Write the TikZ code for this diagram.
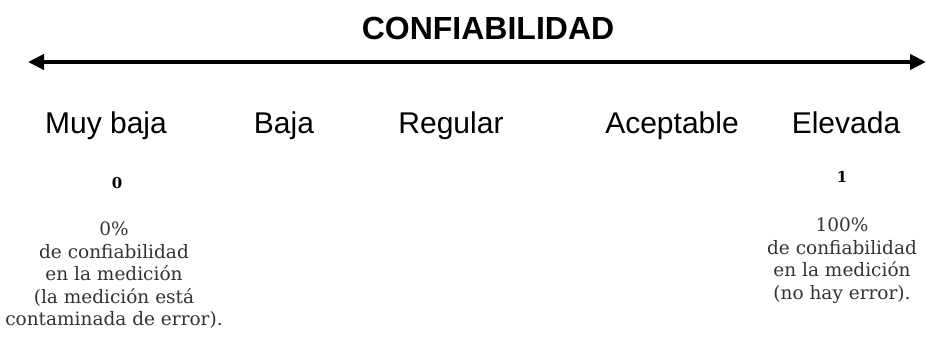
\documentclass[tikz,border=0pt]{standalone}
\usepackage{fontspec}
\setmainfont{Liberation Sans}
\newfontfamily\serifnote{DejaVu Serif}
\usetikzlibrary{arrows.meta}
\begin{document}
\begin{tikzpicture}[x=1pt,y=-1pt,
  level/.style={font=\fontsize{30}{34}\selectfont, anchor=base, inner sep=0pt},
  numtxt/.style={font=\serifnote\bfseries\fontsize{15}{17}\selectfont, inner sep=0pt},
  notetxt/.style={font=\serifnote\fontsize{18.5}{22.5}\selectfont, align=center, inner sep=0pt, anchor=north, text=black!80}]
\useasboundingbox (0,0) rectangle (926,339);
\node[font=\bfseries\fontsize{32}{36}\selectfont, inner sep=0pt] (title) at (488,28) {CONFIABILIDAD};
\coordinate (L) at (28,62);
\coordinate (R) at (926,62);
\draw[line width=4pt, {Triangle[length=16pt,width=15pt]}-{Triangle[length=16pt,width=15pt]}] (L) -- (R);
\node[level] (mb) at (106,134) {Muy baja};
\node[level] (b) at (284,134) {Baja};
\node[level] (r) at (451,134) {Regular};
\node[level] (a) at (672,134) {Aceptable};
\node[level] (e) at (846,134) {Elevada};
\node[numtxt] (n0) at (117,183) {0};
\node[numtxt] (n1) at (842,177) {1};
\node[notetxt] (t0) at (114,222) {0\%\\de confiabilidad\\en la medición\\(la medición está\\contaminada de error).};
\node[notetxt] (t1) at (842,218) {100\%\\de confiabilidad\\en la medición\\(no hay error).};
\end{tikzpicture}
\end{document}
